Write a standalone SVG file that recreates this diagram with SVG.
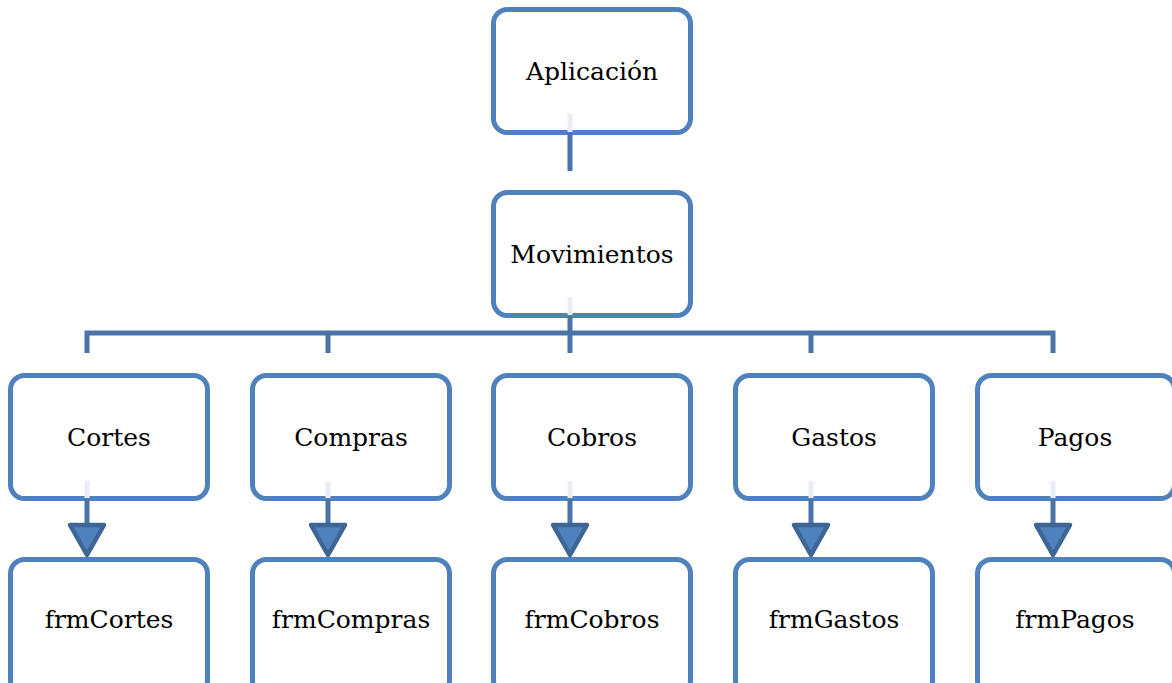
<svg xmlns="http://www.w3.org/2000/svg" width="1172" height="683" viewBox="0 0 1172 683">
<style>
.box{fill:#fff;stroke:#4f81bd;stroke-width:5}
.t{font-family:"DejaVu Serif","Liberation Serif",serif;font-size:25px;fill:#000;text-anchor:middle}
.ln{stroke:#4a74a8;stroke-width:5;fill:none}
.fd{stroke:#e9edf5;stroke-width:5}
.ah{fill:#4f81bd;stroke:#3d6596;stroke-width:4.5;stroke-linejoin:round}
</style>
<rect width="1172" height="683" fill="#fff"/>
<g id="n-aplicacion"><rect class="box" x="493.5" y="9.5" width="197" height="123" rx="14"/><text class="t" x="592" y="80">Aplicación</text></g>
<g id="n-movimientos"><rect class="box" x="493.5" y="192.5" width="197" height="123" rx="14"/><text class="t" x="592" y="263">Movimientos</text></g>
<g id="n-cortes"><rect class="box" x="10.5" y="375.5" width="197" height="123" rx="14"/><text class="t" x="109" y="446">Cortes</text></g>
<g id="n-compras"><rect class="box" x="252.5" y="375.5" width="197" height="123" rx="14"/><text class="t" x="351" y="446">Compras</text></g>
<g id="n-cobros"><rect class="box" x="493.5" y="375.5" width="197" height="123" rx="14"/><text class="t" x="592" y="446">Cobros</text></g>
<g id="n-gastos"><rect class="box" x="735.5" y="375.5" width="197" height="123" rx="14"/><text class="t" x="834" y="446">Gastos</text></g>
<g id="n-pagos"><rect class="box" x="977.5" y="375.5" width="197" height="123" rx="14"/><text class="t" x="1075" y="446">Pagos</text></g>
<g id="n-frmcortes"><rect class="box" x="10.5" y="559.5" width="197" height="135" rx="14"/><text class="t" x="109" y="628">frmCortes</text></g>
<g id="n-frmcompras"><rect class="box" x="252.5" y="559.5" width="197" height="135" rx="14"/><text class="t" x="351" y="628">frmCompras</text></g>
<g id="n-frmcobros"><rect class="box" x="493.5" y="559.5" width="197" height="135" rx="14"/><text class="t" x="592" y="628">frmCobros</text></g>
<g id="n-frmgastos"><rect class="box" x="735.5" y="559.5" width="197" height="135" rx="14"/><text class="t" x="834" y="628">frmGastos</text></g>
<g id="n-frmpagos"><rect class="box" x="977.5" y="559.5" width="197" height="135" rx="14"/><text class="t" x="1075" y="628">frmPagos</text></g>
<g id="connectors">
<line class="fd" x1="570" y1="114" x2="570" y2="132"/>
<line class="ln" x1="570" y1="133" x2="570" y2="171"/>
<line class="fd" x1="570" y1="297" x2="570" y2="315"/>
<path class="ln" d="M570 316V333M87 353V333H1053V353M328 333V353M570 333V353M811 333V353"/>
<g id="arrows">
<line class="fd" x1="87" y1="481" x2="87" y2="498"/><line class="ln" x1="87" y1="499" x2="87" y2="525"/><path class="ah" d="M70 525H104L87 555Z"/>
<line class="fd" x1="328" y1="481" x2="328" y2="498"/><line class="ln" x1="328" y1="499" x2="328" y2="525"/><path class="ah" d="M311 525H345L328 555Z"/>
<line class="fd" x1="570" y1="481" x2="570" y2="498"/><line class="ln" x1="570" y1="499" x2="570" y2="525"/><path class="ah" d="M553 525H587L570 555Z"/>
<line class="fd" x1="811" y1="481" x2="811" y2="498"/><line class="ln" x1="811" y1="499" x2="811" y2="525"/><path class="ah" d="M794 525H828L811 555Z"/>
<line class="fd" x1="1053" y1="481" x2="1053" y2="498"/><line class="ln" x1="1053" y1="499" x2="1053" y2="525"/><path class="ah" d="M1036 525H1070L1053 555Z"/>
</g>
</g>
</svg>
